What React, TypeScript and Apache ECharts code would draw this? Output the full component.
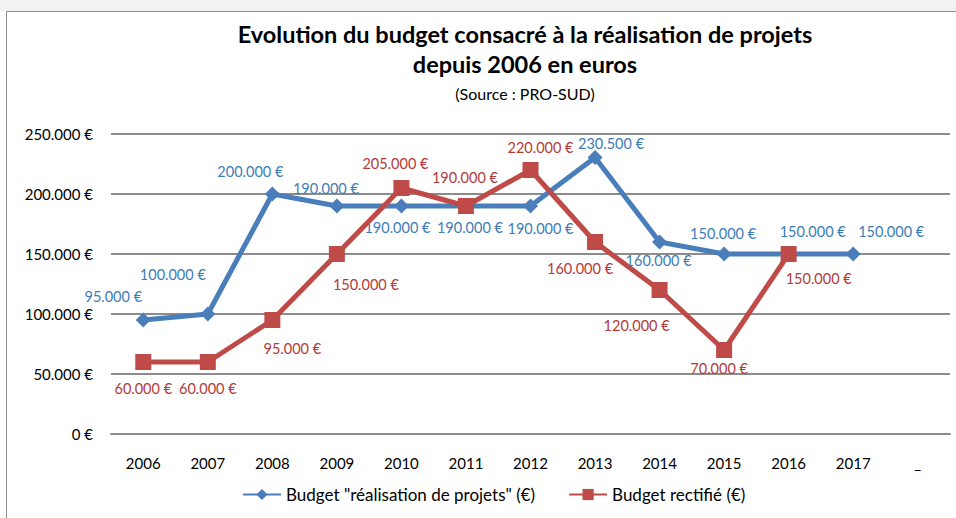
import React, { useEffect, useRef } from "react";
import * as echarts from "echarts";

const years = ["2006", "2007", "2008", "2009", "2010", "2011", "2012", "2013", "2014", "2015", "2016", "2017", "_"];
const budgetProjets = [95000, 100000, 200000, 190000, 190000, 190000, 190000, 230500, 160000, 150000, 150000, 150000, null];
const budgetRectifie = [60000, 60000, 95000, 150000, 205000, 190000, 220000, 160000, 120000, 70000, 150000, null, null];
const yTicks = [0, 50000, 100000, 150000, 200000, 250000];

const titleLine1 = "Evolution du budget consacré à la réalisation de projets";
const titleLine2 = "depuis 2006 en euros";
const sourceText = "(Source : PRO-SUD)";
const seriesNames = ['Budget "réalisation de projets" (€)', "Budget rectifié (€)"];

// label placement (layout only)
const blueLabelOffsets = [
  [-30, -24], [-35, -40], [-22, -23], [-11, -18], [-4, 21], [4, 21], [10, 22], [16, -14], [-1, 18], [-1, -21], [24, -23], [38, -23], [0, 0],
];
const redLabelOffsets = [
  [0, 26], [0, 26], [20, 28], [29, 30], [-6, -25], [-1, -29], [10, -23], [-15, 26], [-23, 35], [-5, 18], [30, 24], [0, 0], [0, 0],
];

const FONT = "Lato, 'Open Sans', sans-serif";

function fmt(v: number): string {
  const s = Math.round(v).toString().replace(/\B(?=(\d{3})+(?!\d))/g, ".");
  return s + " €";
}

export default function App() {
  const ref = useRef<HTMLDivElement>(null);
  useEffect(() => {
    if (!ref.current) return;
    const chart = echarts.init(ref.current, null, { renderer: "svg" });
    const blue = "#4A7EBB";
    const red = "#BE4B48";
    const blueText = "#3C7DB6";
    const redText = "#B33A38";
    chart.setOption({
      animation: false,
      backgroundColor: "#ffffff",
      textStyle: { fontFamily: FONT },
      graphic: [
        { type: "rect", shape: { x: 0, y: 0, width: 956, height: 11 }, style: { fill: "#f2f2f2" }, silent: true },
        { type: "rect", shape: { x: 6.5, y: 11.5, width: 960, height: 520 }, style: { fill: "none", stroke: "#8c8c8c", lineWidth: 1 }, silent: true },
      ],
      title: [
        { text: titleLine1, left: 520, top: 17, textAlign: "center", textStyle: { fontFamily: FONT, fontSize: 23.5, fontWeight: "bold", color: "#000" } },
        { text: titleLine2, left: 520, top: 47, textAlign: "center", textStyle: { fontFamily: FONT, fontSize: 23.5, fontWeight: "bold", color: "#000" } },
        { text: sourceText, left: 520, top: 80, textAlign: "center", textStyle: { fontFamily: FONT, fontSize: 16, fontWeight: "normal", color: "#000" } },
      ],
      legend: {
        top: 481,
        left: 237,
        itemWidth: 38,
        itemHeight: 14,
        itemGap: 33,
        textStyle: { fontFamily: FONT, fontSize: 17, color: "#000" },
        data: seriesNames,
      },
      grid: { left: 111, right: 6, top: 134, bottom: 84, containLabel: false },
      xAxis: {
        type: "category",
        data: years,
        boundaryGap: true,
        axisLine: { show: true, lineStyle: { color: "#8c8c8c", width: 2 } },
        axisTick: { show: false },
        axisLabel: {
          fontFamily: FONT,
          fontSize: 15,
          color: "#000",
          margin: 21,
          interval: 0,
        },
      },
      yAxis: {
        type: "value",
        min: yTicks[0],
        max: yTicks[yTicks.length - 1],
        interval: 50000,
        axisLine: { show: false },
        axisTick: { show: false },
        splitLine: { lineStyle: { color: "#8c8c8c", width: 2 } },
        axisLabel: {
          fontFamily: FONT,
          fontSize: 15,
          color: "#000",
          margin: 18,
          formatter: (v: number) => fmt(v),
        },
      },
      series: [
        {
          name: seriesNames[0],
          type: "line",
          data: budgetProjets.map((v, i) => ({ value: v, label: { offset: blueLabelOffsets[i] } })),
          symbol: "diamond",
          symbolSize: 15,
          showAllSymbol: true,
          connectNulls: false,
          lineStyle: { color: blue, width: 5 },
          itemStyle: { color: blue },
          label: {
            show: true,
            position: "inside",
            align: "center",
            verticalAlign: "middle",
            fontFamily: FONT,
            fontSize: 14.5,
            color: blueText,
            textBorderWidth: 0,
            formatter: (p: any) => fmt(p.value),
          },
          z: 2,
        },
        {
          name: seriesNames[1],
          type: "line",
          data: budgetRectifie.map((v, i) => ({ value: v, label: { offset: redLabelOffsets[i] } })),
          symbol: "rect",
          symbolSize: 16,
          showAllSymbol: true,
          connectNulls: false,
          lineStyle: { color: red, width: 5 },
          itemStyle: { color: red },
          label: {
            show: true,
            position: "inside",
            align: "center",
            verticalAlign: "middle",
            fontFamily: FONT,
            fontSize: 14.5,
            color: redText,
            textBorderWidth: 0,
            formatter: (p: any) => fmt(p.value),
          },
          z: 3,
        },
      ],
    });
    return () => chart.dispose();
  }, []);
  return (
    <div
      ref={ref}
      style={{ position: "fixed", left: 0, top: 0, width: 956, height: 518, background: "#fff" }}
    />
  );
}
